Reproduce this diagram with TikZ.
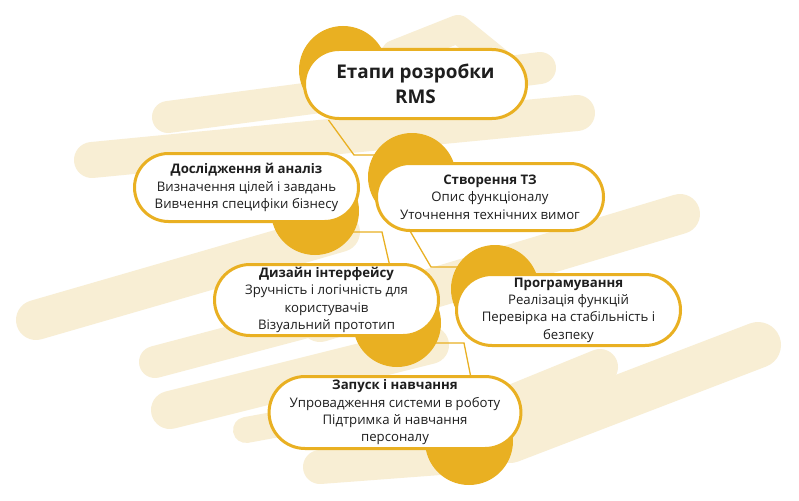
\documentclass[tikz,border=0pt]{standalone}
\usepackage{fontspec}
\setmainfont{Open Sans}
\usetikzlibrary{shapes.misc}
\definecolor{gold}{HTML}{E9B022}
\definecolor{cream}{HTML}{F8EED4}
\definecolor{ink}{HTML}{1E1E1E}
\begin{document}
\begin{tikzpicture}[x=1pt,y=-1pt,
  brush/.style={draw=cream, line width=#1, line cap=round, line join=round},
  conn/.style={draw=gold, line width=1.3pt},
  blob/.style={circle, fill=gold, minimum size=88pt, inner sep=0pt},
  pill/.style={rounded rectangle, draw=gold, line width=3pt, fill=white, inner sep=0pt,
    align=center, text=ink, font=\fontsize{13.2}{17.3}\selectfont}]
\useasboundingbox (0,0) rectangle (799,500);
\fill[white] (0,0) rectangle (799,500);
% background brush strokes
\draw[brush=28] (395,54) -- (458,29) -- (506,68);
\draw[brush=32] (168,117) -- (540,68);
\draw[brush=36] (92,160) -- (577,113);
\draw[brush=40] (36,320) -- (340,232);
\draw[brush=40] (320,322) -- (680,214);
\draw[brush=32] (155,362) -- (420,292);
\draw[brush=38] (170,410) -- (430,345);
\draw[brush=26] (246,430) -- (410,400);
\draw[brush=34] (320,467) -- (440,458);
\draw[brush=36] (470,420) -- (600,367);
\draw[brush=46] (510,440) -- (758,345);
% circles
\node[blob] (bt) at (343,70) {};
\node[blob] (bd) at (315,211) {};
\node[blob] (bs) at (412,177) {};
\node[blob] (bz) at (397,323) {};
\node[blob] (bp) at (495,289) {};
\node[blob] (bq) at (469,441) {};
% pills (positions)
\coordinate (pt) at (415.5,84);
\coordinate (pd) at (246.5,187.5);
\coordinate (ps) at (490,197);
\coordinate (pz) at (326.5,300);
\coordinate (pp) at (568.5,310);
\coordinate (pq) at (395,412.5);
% connectors
\coordinate (k1) at (354,155);
\coordinate (k2) at (382,232);
\coordinate (k3) at (431,267);
\coordinate (k4) at (464,343);
\draw[conn] ([xshift=-87pt,yshift=-36pt]pt) -- (k1) -- (k1 -| bs.center);
\draw[conn] (bd.center |- k2) -- (k2) -- ([xshift=79pt,yshift=-34pt]pz);
\draw[conn] ([xshift=-80pt,yshift=-34pt]ps) -- (k3) -- (k3 -| bp.center);
\draw[conn] (bz.center |- k4) -- (k4) -- ([xshift=90pt,yshift=-35pt]pq);
% pills
\node[pill, minimum width=222pt, minimum height=69pt,
  font=\fontsize{18.9}{25}\selectfont\bfseries] (t) at (pt) {Етапи розробки\\RMS};
\node[pill, minimum width=224pt, minimum height=68pt] (d) at (pd)
  {\textbf{Дослідження й аналіз}\\Визначення цілей і завдань\\Вивчення специфіки бізнесу};
\node[pill, minimum width=227pt, minimum height=67pt] (s) at (ps)
  {\textbf{Створення ТЗ}\\Опис функціоналу\\Уточнення технічних вимог};
\node[pill, minimum width=224pt, minimum height=71pt] (z) at (pz)
  {\textbf{Дизайн інтерфейсу}\\Зручність і логічність для\\користувачів\\Візуальний прототип};
\node[pill, minimum width=224pt, minimum height=71pt] (p) at (pp)
  {\textbf{Програмування}\\Реалізація функцій\\Перевірка на стабільність і\\безпеку};
\node[pill, minimum width=221pt, minimum height=72pt] (q) at (pq)
  {\textbf{Запуск і навчання}\\Упровадження системи в роботу\\Підтримка й навчання\\персоналу};
\end{tikzpicture}
\end{document}
